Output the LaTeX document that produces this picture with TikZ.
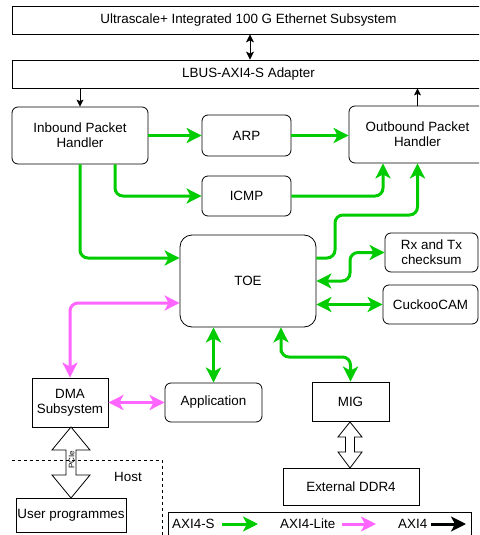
\documentclass[tikz,border=0pt]{standalone}
\usepackage{fontspec}
\setmainfont{Liberation Sans}
\usetikzlibrary{arrows.meta,calc}
\definecolor{axis}{RGB}{0,204,0}
\definecolor{axil}{RGB}{255,102,255}
\tikzset{
  base/.style={draw, line width=0.8pt, align=center, inner sep=0pt, font=\fontsize{13.4}{15}\selectfont},
  rbox/.style={base, rounded corners=6pt},
  sbox/.style={base},
  gline/.style={draw=axis, line width=3pt, rounded corners=8pt},
  pline/.style={draw=axil, line width=3pt, rounded corners=8pt},
  gtip/.style={-{Stealth[length=15pt,width=15pt,inset=4pt]}},
  gtips/.style={{Stealth[length=15pt,width=15pt,inset=4pt]}-{Stealth[length=15pt,width=15pt,inset=4pt]}},
  bline/.style={draw, line width=0.9pt},
  btip/.style={-{Stealth[length=7pt,width=7pt,inset=1.5pt]}},
  blockarrow/.style={draw, line width=0.8pt, fill=white, line join=miter},
  txt/.style={inner sep=0pt, font=\fontsize{13.4}{15}\selectfont}
}
\begin{document}
\begin{tikzpicture}[x=1pt,y=-1pt]
\useasboundingbox (0,0) rectangle (479,535);
\clip (0,0) rectangle (479,535);
\fill[white] (0,0) rectangle (479,535);

% boxes
\node[sbox, minimum width=473pt, minimum height=28pt] (top) at (248.5,20) {Ultrascale+ Integrated 100 G Ethernet Subsystem};
\node[sbox, minimum width=473pt, minimum height=28pt] (lbus) at (248.5,74) {LBUS-AXI4-S Adapter};
\node[rbox, minimum width=136pt, minimum height=57pt] (inb) at (80,135.5) {Inbound Packet\\Handler};
\node[rbox, minimum width=89pt, minimum height=41pt] (arp) at (246.5,135.5) {ARP};
\node[rbox, minimum width=89pt, minimum height=40pt] (icmp) at (246.5,196) {ICMP};
\node[rbox, minimum width=137pt, minimum height=57pt] (out) at (417.5,134.5) {Outbound Packet\\Handler};
\node[rbox, rounded corners=12pt, minimum width=136pt, minimum height=92pt] (toe) at (248,281) {TOE};
\node[rbox, minimum width=93pt, minimum height=39pt] (rx) at (431.5,252.5) {Rx and Tx\\checksum};
\node[rbox, minimum width=95pt, minimum height=39pt] (cam) at (430.5,304.5) {CuckooCAM};
\node[sbox, minimum width=76pt, minimum height=49pt] (dma) at (70,402.5) {DMA\\Subsystem};
\node[rbox, minimum width=97pt, minimum height=39pt] (app) at (213.5,402.5) {Application};
\node[sbox, minimum width=77pt, minimum height=39pt] (mig) at (350.5,401.5) {MIG};
\node[sbox, minimum width=136pt, minimum height=37pt] (ddr) at (351,486.5) {External DDR4};
\node[sbox, minimum width=110pt, minimum height=34pt] (user) at (71,515) {User programmes};

% black AXI4 connectors
\draw[bline, {Stealth[length=8pt,width=8pt,inset=2pt]}-{Stealth[length=8pt,width=8pt,inset=2pt]}] ([xshift=1.5pt]top.south) -- ([xshift=1.5pt]lbus.north);
\draw[bline, btip] (lbus.south -| inb.north) -- (inb.north);
\draw[bline, btip] (out.north) -- (out.north |- lbus.south);

% green AXI4-S connectors
\draw[gline, gtip] (inb.east) -- (arp.west);
\draw[gline, gtip] (arp.east) -- (arp.east -| out.west);
\draw[gline, gtip] ([xshift=35pt]inb.south) |- (icmp.west);
\draw[gline, gtip] (icmp.east) -| ([xshift=-34.5pt]out.south);
\draw[gline, gtip] (inb.south) |- ([yshift=23pt]toe.west);
\coordinate (j1) at (335,215);
\draw[gline, gtip] ([yshift=23pt]toe.east) -| (j1) -| (out.south);
\coordinate (j2) at (350,252.5);
\draw[gline, gtips] (toe.east) -| (j2) -- (rx.west);
\draw[gline, gtips] (toe.east |- cam.west) -- (cam.west);
\draw[gline, gtips] (app.north |- toe.south) -- (app.north);
\coordinate (j3) at (281,357);
\draw[gline, gtips] ([xshift=33pt]toe.south) |- (j3) -| (mig.north);

% pink AXI4-Lite connectors
\draw[pline, gtips] ([yshift=-22pt]toe.west) -| (dma.north);
\draw[pline, gtips] (dma.east) -- (app.west);

% block arrows
\draw[blockarrow] (71,427) -- (90,450) -- (76,450) -- (76,475) -- (90,475) -- (71,498) -- (52,475) -- (66,475) -- (66,450) -- (52,450) -- cycle;
\draw[blockarrow] (350,422) -- (362,437) -- (354.5,437) -- (354.5,452) -- (362,452) -- (350,468) -- (338,452) -- (345.5,452) -- (345.5,437) -- (338,437) -- cycle;
\node[inner sep=0pt, rotate=90, font=\fontsize{8}{9}\selectfont] (pcie) at (71.5,460) {PCIe};

% host region
\draw[line width=0.8pt, dash pattern=on 3pt off 3pt] (12,460) -- (162,460) -- (162,540);
\node[txt] (host) at (128,477) {Host};

% legend
\node[draw, line width=0.8pt, minimum width=303pt, minimum height=34pt, inner sep=0pt] (leg) at (319.5,529) {};
\node[txt, anchor=west] (l1) at (172,524) {AXI4-S};
\coordinate (l1a) at (222,524);
\coordinate (l1b) at (258,524);
\draw[gline, gtip] (l1a) -- (l1b);
\node[txt, anchor=west] (l2) at (280,524) {AXI4-Lite};
\coordinate (l2a) at (342,524);
\coordinate (l2b) at (376,524);
\draw[pline, gtip] (l2a) -- (l2b);
\node[txt, anchor=west] (l3) at (398,524) {AXI4};
\coordinate (l3a) at (431,524);
\coordinate (l3b) at (466,524);
\draw[line width=3pt, gtip] (l3a) -- (l3b);
\end{tikzpicture}
\end{document}
